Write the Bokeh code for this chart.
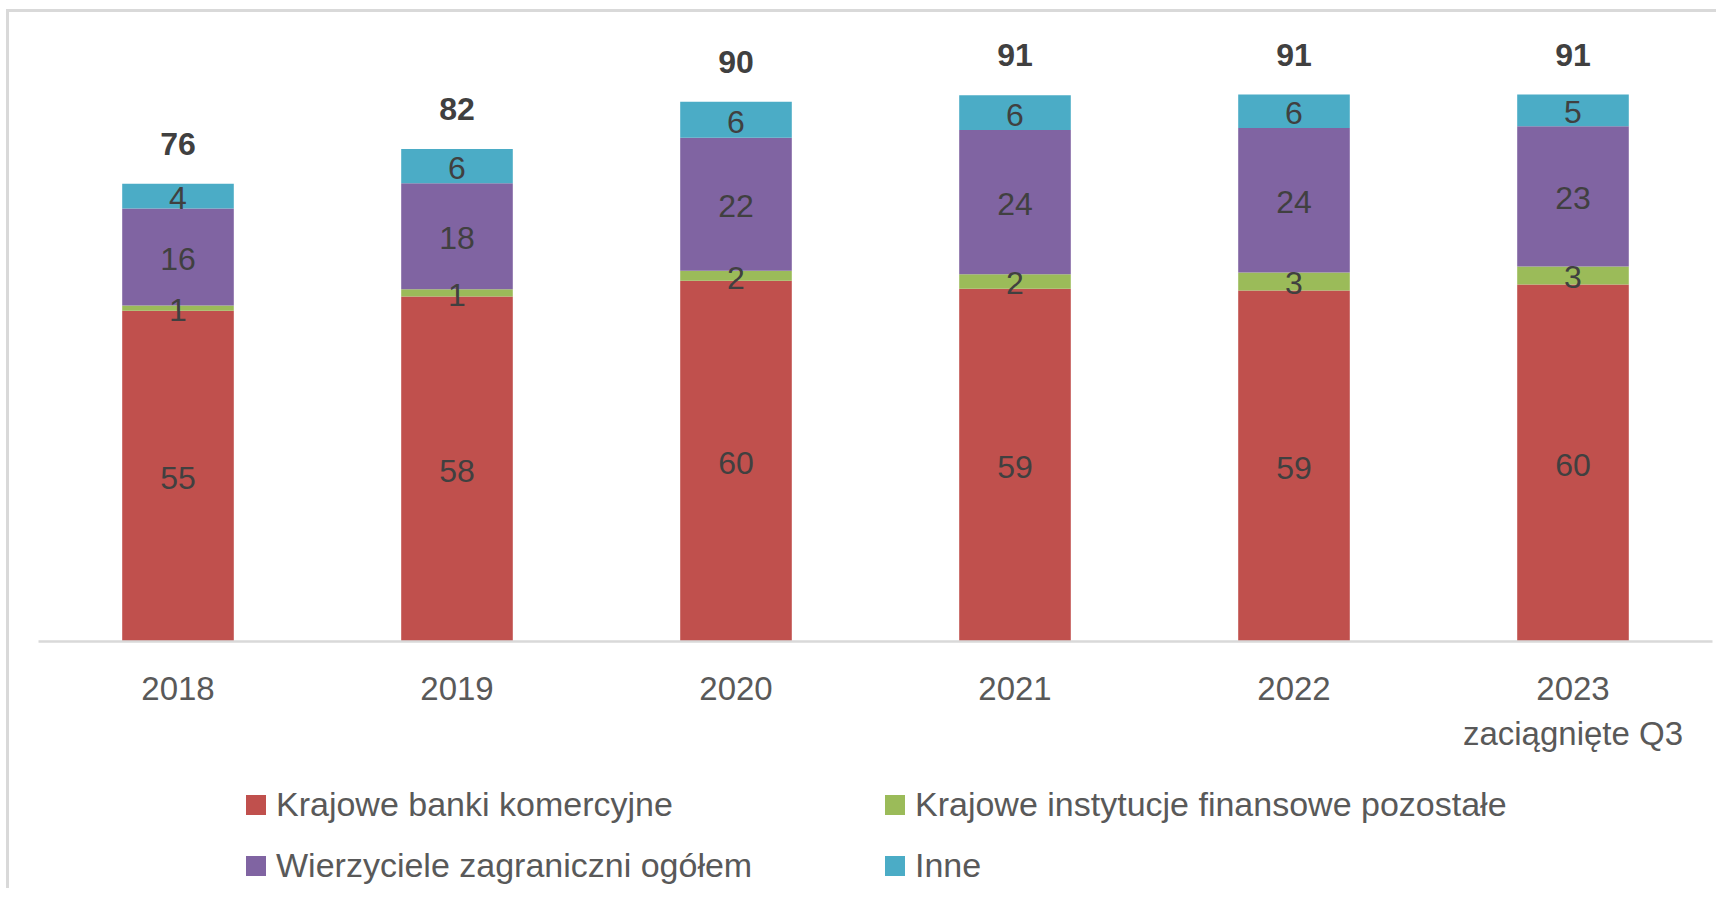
from bokeh.plotting import figure
from bokeh.layouts import column
from bokeh.models import ColumnDataSource, FactorRange, Range1d, Legend, LegendItem
from bokeh.core.properties import value
from bokeh.embed import file_html
from bokeh.resources import INLINE
import numpy as np

# ---- data ----
years = ["2018", "2019", "2020", "2021", "2022", "2023\nzaciągnięte Q3"]
banki = [55.2, 57.6, 60.2, 58.9, 58.6, 59.6]          # Krajowe banki komercyjne
instytucje = [0.9, 1.2, 1.7, 2.4, 3.0, 3.0]          # Krajowe instytucje finansowe pozostałe
zagraniczni = [16.2, 17.7, 22.2, 24.1, 24.1, 23.4]   # Wierzyciele zagraniczni ogółem
inne = [4.1, 5.7, 6.0, 5.8, 5.6, 5.3]                # Inne
series_names = ["Krajowe banki komercyjne",
                "Krajowe instytucje finansowe pozostałe",
                "Wierzyciele zagraniczni ogółem",
                "Inne"]
colors = ["#C0504D", "#9BBB59", "#8064A2", "#4BACC6"]

FONT = "Liberation Sans"

series = [banki, instytucje, zagraniczni, inne]
keys = ["s0", "s1", "s2", "s3"]
data = {"x": years}
for k, s in zip(keys, series):
    data[k] = s
src = ColumnDataSource(data)

p = figure(x_range=FactorRange(factors=years), y_range=Range1d(0, 105),
           frame_width=1674, frame_height=629, output_backend="svg", toolbar_location=None,
           y_axis_location=None, min_border_left=29, min_border_right=4,
           min_border_top=0, min_border_bottom=130)
p.outline_line_color = None
p.grid.grid_line_color = None
p.background_fill_color = "white"

rends = p.vbar_stack(keys, x="x", width=0.4, color=colors, line_color=None, source=src)

# segment labels
arr = np.array(series, dtype=float)
bottoms = np.vstack([np.zeros(arr.shape[1]), np.cumsum(arr, axis=0)[:-1]])
mids = bottoms + arr / 2
lx, ly, lt = [], [], []
for i in range(arr.shape[0]):
    for j in range(arr.shape[1]):
        lx.append(years[j])
        ly.append(float(mids[i, j]))
        lt.append(str(int(round(arr[i, j]))))
lsrc = ColumnDataSource(dict(x=lx, y=ly, t=lt))
p.text(x="x", y="y", text="t", source=lsrc, text_align="center", text_baseline="middle",
       text_font=value(FONT), text_font_size="32px", text_color="#404040", y_offset=2)

# totals
totals = arr.sum(axis=0)
tsrc = ColumnDataSource(dict(x=years, y=list(totals), t=[str(int(round(v))) for v in totals]))
p.text(x="x", y="y", text="t", source=tsrc, text_align="center", text_baseline="middle",
       text_font=value(FONT), text_font_size="32px", text_font_style="bold",
       text_color="#404040", y_offset=-40)

ax = p.xaxis[0]
ax.axis_line_color = "#d9d9d9"
ax.axis_line_width = 2.5
ax.major_tick_line_color = None
ax.major_tick_out = 0
ax.major_tick_in = 0
ax.major_label_standoff = 28
ax.major_label_text_font = FONT
ax.major_label_text_font_size = "33px"
ax.major_label_text_color = "#595959"
ax.major_label_text_line_height = 1.22

# ---- legend strip (same series, drawn far outside its visible y range) ----
pl = figure(width=1707, height=117, x_range=p.x_range, y_range=Range1d(1000, 1001),
            output_backend="svg", toolbar_location=None,
            x_axis_location=None, y_axis_location=None,
            min_border_left=0, min_border_right=0, min_border_top=0, min_border_bottom=0)
pl.outline_line_color = None
pl.grid.grid_line_color = None
proxies = pl.vbar_stack(keys, x="x", width=0.4, color=colors, line_color=None, source=src)

common = dict(orientation="horizontal", margin=0, padding=0, spacing=0,
              glyph_width=25, glyph_height=25, label_standoff=8, label_width=606,
              label_text_font=FONT, label_text_font_size="34px", label_text_color="#595959",
              background_fill_alpha=0, border_line_color=None)
leg1 = Legend(items=[LegendItem(label=series_names[0], renderers=[proxies[0]]),
                     LegendItem(label=series_names[1], renderers=[proxies[1]])],
              location=(205, 64), **common)
leg2 = Legend(items=[LegendItem(label=series_names[2], renderers=[proxies[2]]),
                     LegendItem(label=series_names[3], renderers=[proxies[3]])],
              location=(205, 3), **common)
pl.add_layout(leg1)
pl.add_layout(leg2)

layout = column(p, pl, spacing=0,
                styles={"border-left": "3px solid #d9d9d9", "border-top": "3px solid #d9d9d9",
                        "margin-left": "6px", "margin-top": "9px"})

open("out.html", "w").write(file_html(layout, INLINE))
